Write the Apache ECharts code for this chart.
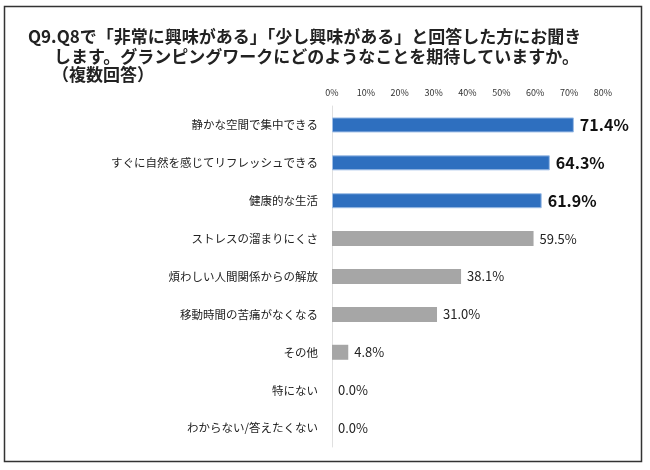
<!DOCTYPE html>
<html><head><meta charset="utf-8">
<script src="https://cdn.jsdelivr.net/npm/echarts@6/dist/echarts.min.js"></script>
<style>html,body{margin:0;padding:0;background:#fff}#c{width:650px;height:470px}</style>
</head><body><div id="c"></div>
<script>
const categories = ["静かな空間で集中できる","すぐに自然を感じてリフレッシュできる","健康的な生活","ストレスの溜まりにくさ","煩わしい人間関係からの解放","移動時間の苦痛がなくなる","その他","特にない","わからない/答えたくない"];
const values = [71.4, 64.3, 61.9, 59.5, 38.1, 31.0, 4.8, 0.0, 0.0];
const highlighted = [true, true, true, false, false, false, false, false, false];
const titleLines = ["Q9.Q8で「非常に興味がある」「少し興味がある」と回答した方にお聞き","します。グランピングワークにどのようなことを期待していますか。","（複数回答）"];

const font = '"Noto Sans CJK JP", "Noto Sans", sans-serif';
const chart = echarts.init(document.getElementById('c'));
const titleX = [28, 54, 52];
const titleY = [28, 48, 66];
chart.setOption({
  animation: false,
  title: titleLines.map((t, i) => ({
    text: t, left: titleX[i], top: titleY[i], padding: 0,
    textStyle: {fontFamily: font, fontSize: 17, fontWeight: 'bold', color: '#222'}
  })),
  graphic: [{
    type: 'rect', shape: {x: 4.5, y: 6.5, width: 637, height: 455},
    style: {fill: 'none', stroke: '#333', lineWidth: 1.5}, silent: true
  }],
  grid: {left: 332, right: 47, top: 106, bottom: 23, containLabel: false},
  xAxis: {
    type: 'value', position: 'top', min: 0, max: 80, interval: 10,
    axisLabel: {formatter: '{value}%', fontFamily: font, fontSize: 9, color: '#333', margin: 9},
    axisLine: {show: false}, axisTick: {show: false}, splitLine: {show: false}
  },
  yAxis: {
    type: 'category', inverse: true, data: categories,
    axisLine: {show: true, lineStyle: {color: '#e0e0e0', width: 1}},
    axisTick: {show: false},
    axisLabel: {fontFamily: font, fontSize: 11.5, color: '#222', margin: 14}
  },
  series: [{
    type: 'bar', barWidth: 15,
    data: values.map((v, i) => ({
      value: v,
      itemStyle: highlighted[i]
        ? {color: '#2E6FBF', borderColor: '#9DBDE6', borderWidth: 1}
        : {color: '#A6A6A6'},
      label: highlighted[i]
        ? {fontSize: 16, fontWeight: 'bold', color: '#111'}
        : {fontSize: 13, fontWeight: 'normal', color: '#222'}
    })),
    label: {show: true, position: 'right', distance: 6, fontFamily: font,
      formatter: p => p.value.toFixed(1) + '%'}
  }]
});
</script></body></html>
